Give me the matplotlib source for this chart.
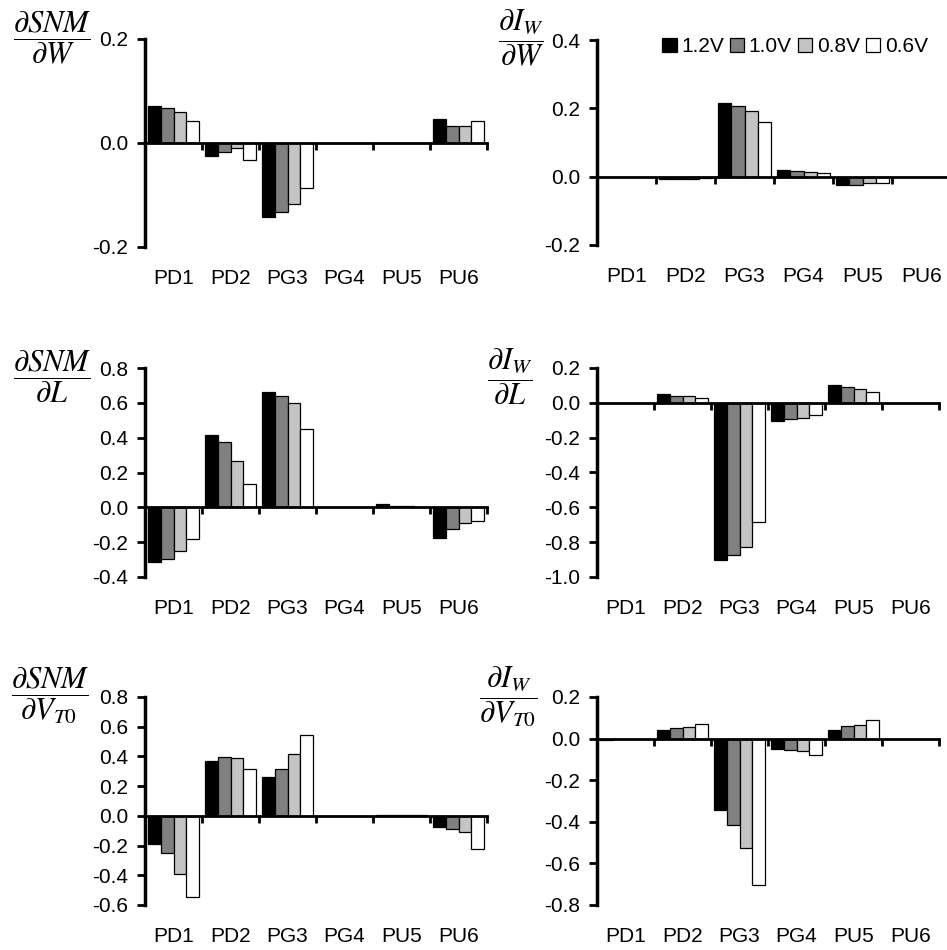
import numpy as np
import matplotlib
matplotlib.use("Agg")
import matplotlib.pyplot as plt
from matplotlib.ticker import FormatStrFormatter, MultipleLocator

plt.rcParams['font.family'] = ['Liberation Sans', 'DejaVu Sans']
plt.rcParams['mathtext.fontset'] = 'stix'
plt.rcParams['axes.unicode_minus'] = False

categories = ['PD1', 'PD2', 'PG3', 'PG4', 'PU5', 'PU6']
voltages = ['1.2V', '1.0V', '0.8V', '0.6V']
colors = ['#000000', '#808080', '#c4c4c4', '#ffffff']

# rows: 1.2V, 1.0V, 0.8V, 0.6V ; columns follow categories
snm_w = [[0.071, -0.025, -0.143, 0, 0, 0.047],
         [0.067, -0.017, -0.132, 0, 0, 0.033],
         [0.060, -0.010, -0.118, 0, 0, 0.033],
         [0.043, -0.033, -0.086, 0, 0, 0.043]]
iw_w = [[0, -0.007, 0.217, 0.020, -0.025, 0],
        [0, -0.006, 0.207, 0.018, -0.025, 0],
        [0, -0.006, 0.191, 0.014, -0.019, 0],
        [0, -0.004, 0.161, 0.010, -0.019, 0]]
snm_l = [[-0.315, 0.418, 0.662, 0, 0.020, -0.175],
         [-0.295, 0.376, 0.637, 0, 0.010, -0.123],
         [-0.253, 0.265, 0.597, 0, 0.005, -0.090],
         [-0.184, 0.136, 0.449, 0, 0.003, -0.080]]
iw_l = [[0, 0.050, -0.904, -0.103, 0.102, 0],
        [0, 0.040, -0.875, -0.095, 0.090, 0],
        [0, 0.040, -0.828, -0.085, 0.080, 0],
        [0, 0.030, -0.684, -0.067, 0.061, 0]]
snm_vt = [[-0.192, 0.368, 0.260, 0, 0.005, -0.074],
          [-0.253, 0.397, 0.316, 0, 0.005, -0.090],
          [-0.392, 0.390, 0.413, 0, 0.004, -0.108],
          [-0.544, 0.318, 0.543, 0, 0.003, -0.226]]
iw_vt = [[-0.005, 0.043, -0.341, -0.048, 0.043, 0],
         [-0.003, 0.051, -0.417, -0.056, 0.059, 0],
         [-0.002, 0.058, -0.524, -0.061, 0.064, 0],
         [-0.001, 0.072, -0.702, -0.077, 0.091, 0]]

labels = [r'$\dfrac{\partial SNM}{\partial W}$', r'$\dfrac{\partial I_W}{\partial W}$',
          r'$\dfrac{\partial SNM}{\partial L}$', r'$\dfrac{\partial I_W}{\partial L}$',
          r'$\dfrac{\partial SNM}{\partial V_{T0}}$', r'$\dfrac{\partial I_W}{\partial V_{T0}}$']
datasets = [snm_w, iw_w, snm_l, iw_l, snm_vt, iw_vt]
ylims = [(-0.2, 0.2), (-0.2, 0.4), (-0.4, 0.8), (-1.0, 0.2), (-0.6, 0.8), (-0.8, 0.2)]

W, H = 947, 950
fig = plt.figure(figsize=(W / 100, H / 100), dpi=100)

# axes boxes in pixels: left, top, right, bottom
boxes = [(145, 39, 487, 247), (597, 40, 951, 245),
         (145, 368, 487, 577), (597, 368, 939, 577),
         (145, 697, 487, 905), (597, 697, 939, 905)]
# centre of the fraction label, pixels
label_pos = [(52, 38), (521, 38), (52, 377), (510, 377), (50, 696), (508, 697)]

x = np.arange(len(categories)) + 0.5
bw = 0.225
fs = 15

for k in range(6):
    l, t, r, b = boxes[k]
    ax = fig.add_axes([l / W, 1 - b / H, (r - l) / W, (b - t) / H])
    data = datasets[k]
    for i in range(4):
        ax.bar(x + (i - 1.5) * bw, data[i], bw, color=colors[i],
               edgecolor='black', linewidth=0.9, label=voltages[i], zorder=2)
    ax.set_xlim(0, 6)
    ax.set_ylim(*ylims[k])
    ax.spines['top'].set_visible(False)
    ax.spines['right'].set_visible(False)
    ax.spines['bottom'].set_position(('data', 0))
    ax.spines['bottom'].set_linewidth(2)
    ax.spines['bottom'].set_zorder(3)
    ax.spines['left'].set_linewidth(2.5)
    ax.set_xticks(np.arange(1, 7))
    ax.set_xticklabels([])
    ax.tick_params(axis='x', direction='out', length=5, width=2)
    ax.yaxis.set_major_locator(MultipleLocator(0.2))
    ax.yaxis.set_major_formatter(FormatStrFormatter('%.1f'))
    ax.tick_params(axis='y', direction='out', length=6, width=2, pad=6, labelsize=fs)
    for xi, c in zip(x, categories):
        ax.annotate(c, (xi, 0), xycoords=('data', 'axes fraction'),
                    xytext=(0, -31), textcoords='offset pixels',
                    ha='center', va='center', fontsize=fs)
    lx, ly = label_pos[k]
    fig.text(lx / W, 1 - ly / H, labels[k], ha='center', va='center', fontsize=22)
    if k == 1:
        ax.legend(ncol=4, loc='center', bbox_to_anchor=(0.559, 0.966), frameon=False,
                  fontsize=fs, handlelength=0.7, handleheight=0.7,
                  handletextpad=0.2, columnspacing=0.3, borderpad=0)

fig.savefig('out.png', dpi=100)
